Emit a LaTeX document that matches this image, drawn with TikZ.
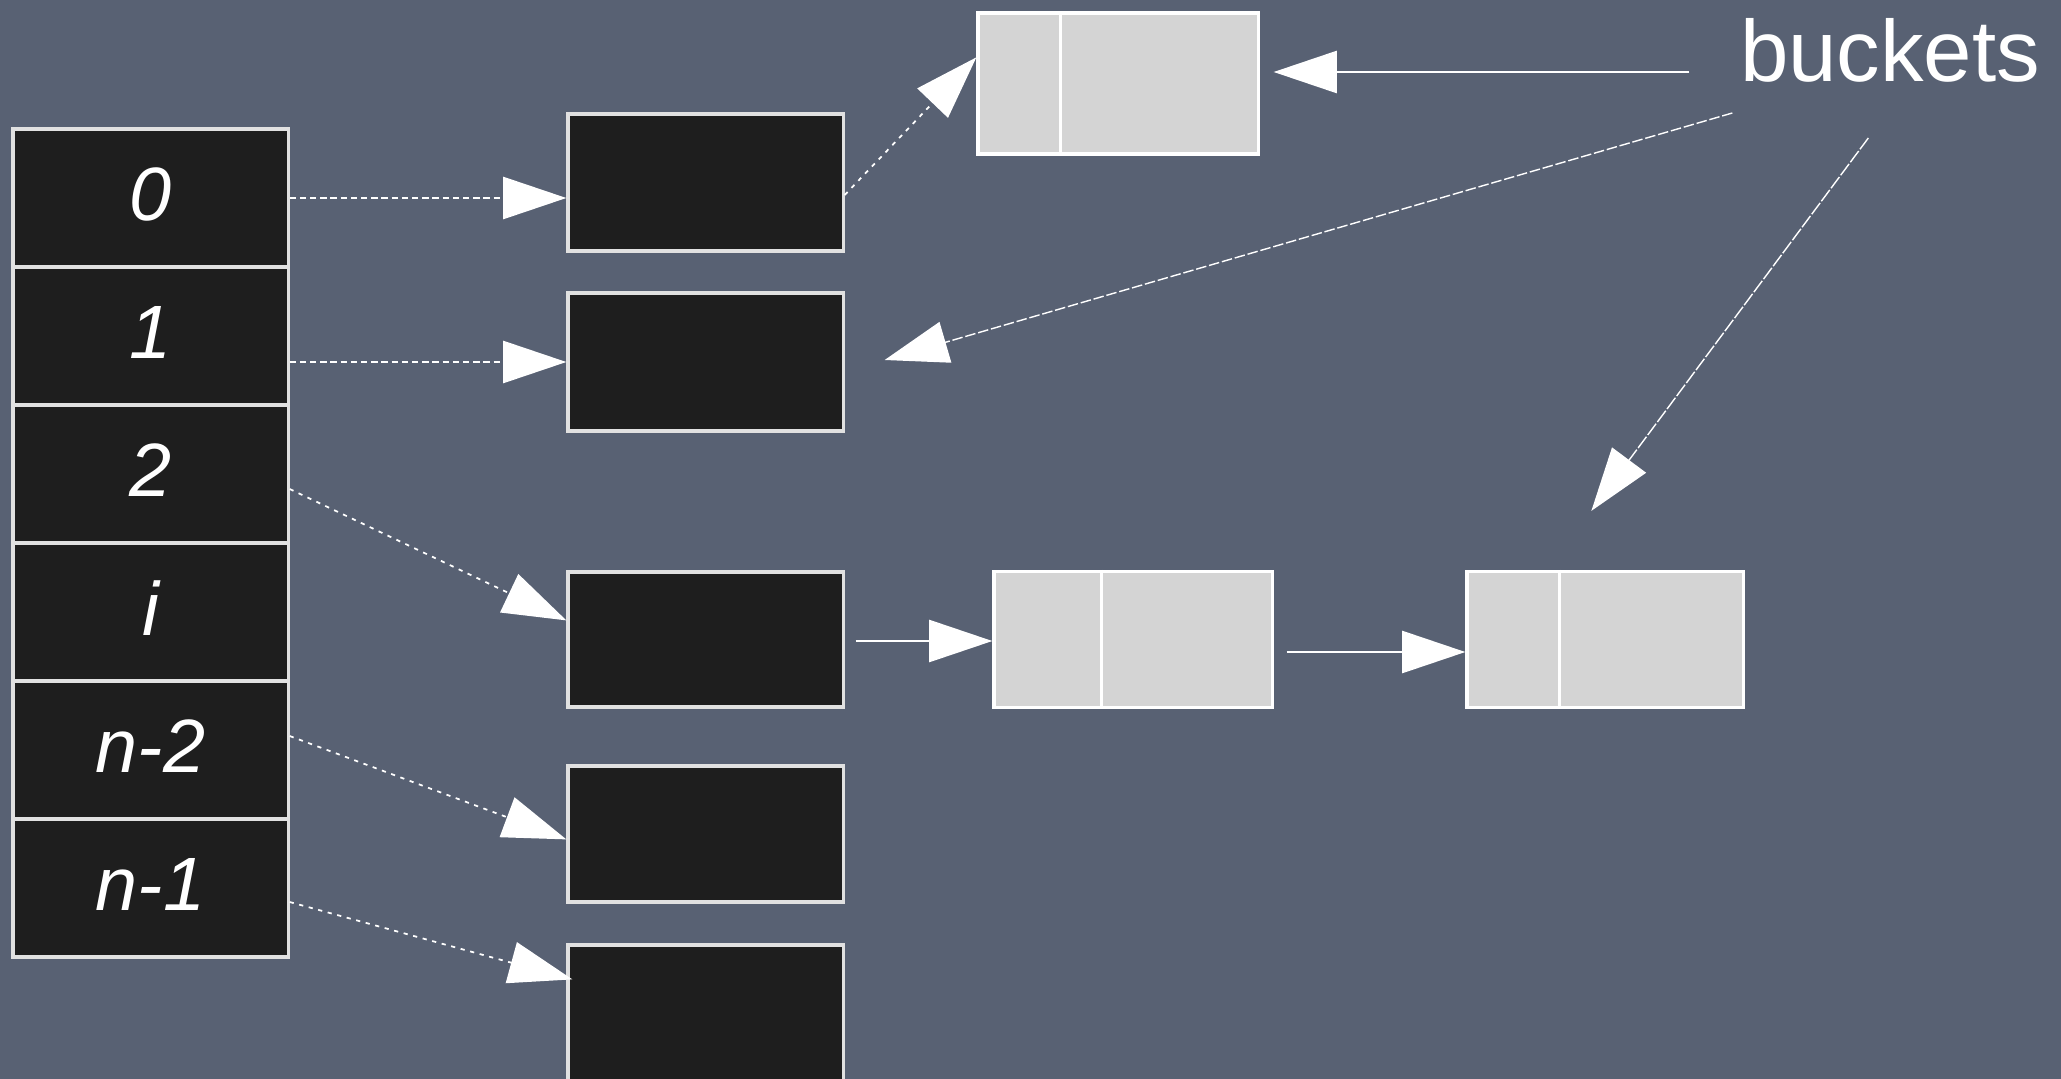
\documentclass[tikz,border=0pt]{standalone}
\usepackage{fontspec}
\setmainfont{Liberation Sans}
\usetikzlibrary{arrows.meta,calc}
\definecolor{board}{RGB}{88,97,115}
\definecolor{cellblack}{RGB}{30,30,30}
\definecolor{bucketgray}{RGB}{212,212,212}
\definecolor{edgegray}{RGB}{225,225,225}
\begin{document}
\begin{tikzpicture}[x=0.01cm,y=-0.01cm,
  cell/.style={draw=edgegray, line width=0.9pt, fill=cellblack, minimum width=2.75cm, minimum height=1.38cm, inner sep=0pt, text=white, font=\fontsize{21.5}{24}\selectfont\itshape},
  head/.style={draw=edgegray, line width=0.9pt, fill=cellblack, minimum width=2.75cm, inner sep=0pt},
  bucket/.style={draw=white, line width=0.9pt, fill=bucketgray, minimum height=1.36cm, inner sep=0pt},
  ptr/.style={draw=white, line width=0.6pt, -{Triangle[length=18pt,width=12pt]}},
  dashptr/.style={ptr, dash pattern=on 1.8pt off 1.1pt},
  dotptr/.style={ptr, line width=0.5pt, dash pattern=on 1.2pt off 1.6pt},
  fineptr/.style={ptr, line width=0.4pt, dash pattern=on 3pt off 0.8pt},
  label/.style={text=white, font=\fontsize{24.75}{28}\selectfont, inner sep=0pt},
  lift/.style={text depth=0pt, yshift=2pt}
]
\useasboundingbox (0,0) rectangle (2061,1079);
\fill[board] (0,0) rectangle (2061,1079);

% hash table cells
\node[cell] (t0) at (150.5,198) {\raisebox{2pt}{0}};
\node[cell] (t1) at (150.5,336) {\raisebox{2pt}{1}};
\node[cell] (t2) at (150.5,474) {\raisebox{2pt}{2}};
\node[cell] (t3) at (150.5,612) {\raisebox{2pt}{i}};
\node[cell] (t4) at (150.5,750) {\raisebox{2pt}{n-2}};
\node[cell] (t5) at (150.5,888) {\raisebox{2pt}{n-1}};

% head boxes
\node[head, minimum height=1.37cm] (b0) at (705.5,182.5) {};
\node[head, minimum height=1.38cm] (b1) at (705.5,362) {};
\node[head, minimum height=1.35cm] (b2) at (705.5,639.5) {};
\node[head, minimum height=1.36cm] (b3) at (705.5,834) {};
\node[head, minimum height=1.50cm] (b4) at (705.5,1020) {};

% buckets
\node[bucket, minimum width=2.80cm, minimum height=1.41cm] (g1) at (1118,83.5) {};
\node[bucket, minimum width=2.78cm] (g2) at (1133,639.5) {};
\node[bucket, minimum width=2.76cm] (g3) at (1605,639.5) {};
\draw[white, line width=0.8pt] ($(g1.north west)+(84,0)$) -- ($(g1.south west)+(84,0)$);
\draw[white, line width=0.8pt] ($(g2.north west)+(109,0)$) -- ($(g2.south west)+(109,0)$);
\draw[white, line width=0.8pt] ($(g3.north west)+(94,0)$) -- ($(g3.south west)+(94,0)$);

% label
\node[label, anchor=base] (lbl) at (1890,82) {buckets};

% table -> heads
\draw[dashptr] (t0.east) -- (t0.east -| b0.west);
\draw[dashptr] (b1.west -| t1.east) -- (b1.west);
\draw[dotptr] ($(t2.east)+(0,15)$) -- ($(b2.north west)+(0,50)$);
\draw[dotptr] ($(t4.east)+(0,-14)$) -- ($(b3.north west)+(0,75)$);
\draw[dotptr] ($(t5.east)+(0,14)$) -- ($(b4.north west)+(6,36)$);

% head -> bucket chains
\draw[dotptr] ($(b0.east)+(0,12.5)$) -- ($(g1.north west)+(0,46)$);
\draw[ptr] ($(b2.east)+(11,1.5)$) -- ($(g2.west)+(0,1.5)$);
\draw[ptr] ($(g2.east)+(13,12.5)$) -- ($(g3.west)+(0,12.5)$);

% label pointers
\draw[ptr] ($(lbl.base west)+(-50,-10)$) -- ($(g1.east)+(14,-11.5)$);
\draw[fineptr] ($(lbl.base west)+(-7,31)$) -- ($(b1.east)+(40,-2)$);
\draw[dotptr, line width=0.4pt, dash pattern=on 4pt off 0.6pt] ($(lbl.base west)+(129,56)$) -- ($(g3.north west)+(126,-59)$);
\end{tikzpicture}
\end{document}
